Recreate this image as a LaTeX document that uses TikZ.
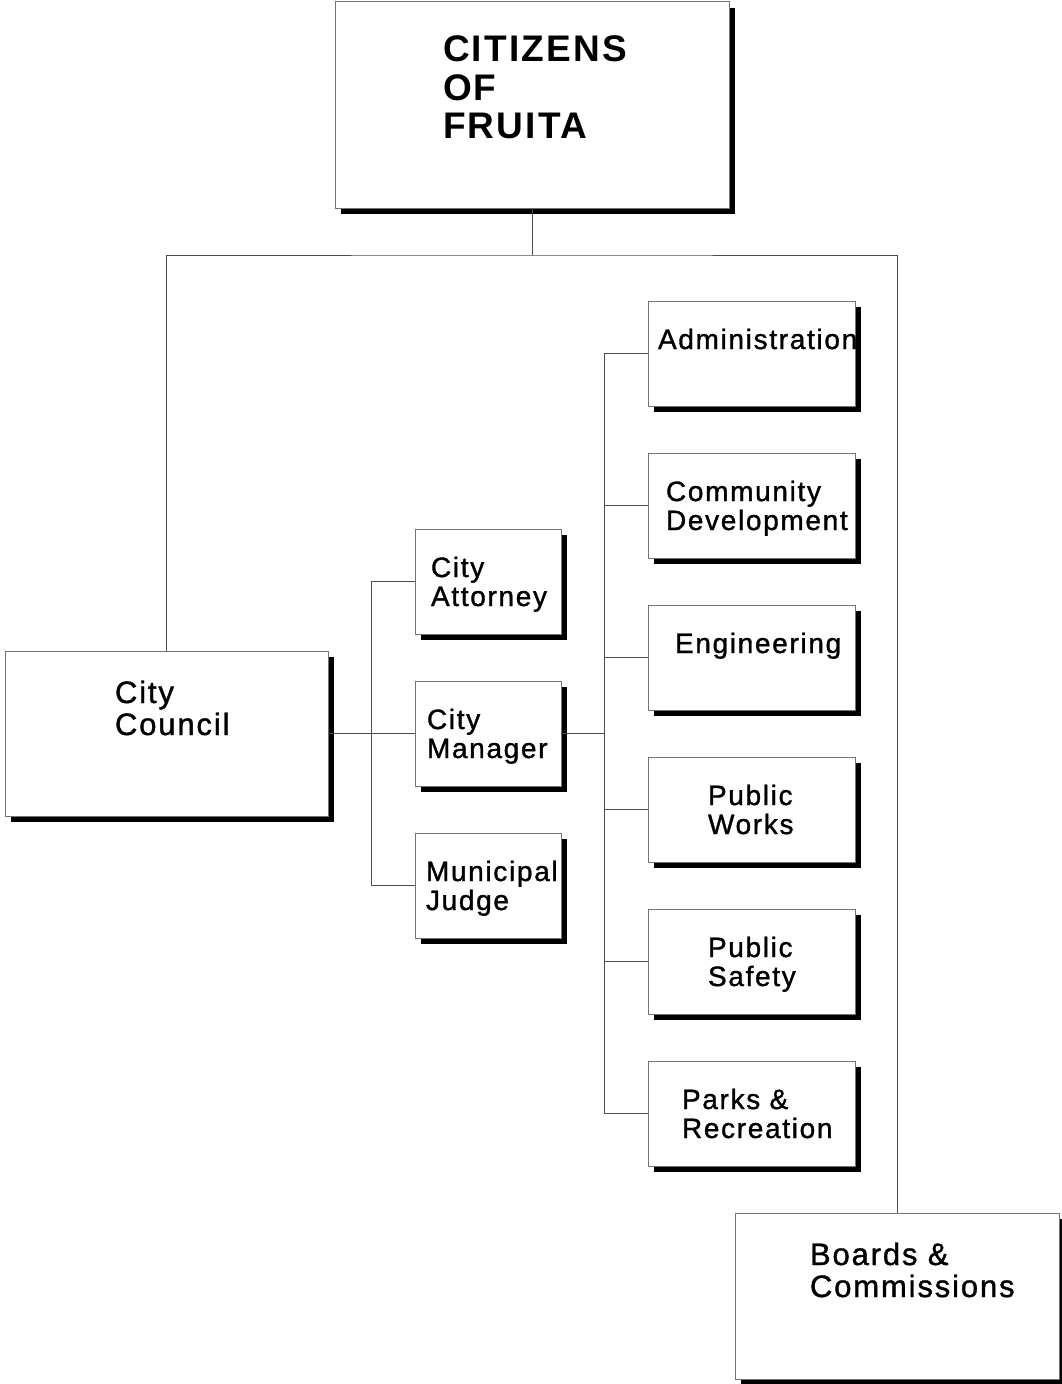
\documentclass[tikz,border=0pt]{standalone}
\usepackage{fontspec}
\newfontfamily\orgfont[LetterSpace=6.0, FakeBold=1.2]{Liberation Sans}
\newfontfamily\orgbold[LetterSpace=6.0]{Liberation Sans Bold}
\usetikzlibrary{shadows}
\hyphenpenalty=10000
\exhyphenpenalty=10000

\begin{document}
\begin{tikzpicture}[x=0.75pt, y=-0.75pt,
    box/.style={rectangle, draw=black!55, line width=0.75pt, fill=white,
        inner sep=0pt, outer sep=0pt, align=left,
        drop shadow={shadow xshift=4.2pt, shadow yshift=-4.2pt, fill=black, opacity=1}},
    bigbox/.style={box, text height=39pt, font=\orgfont\fontsize{23.25pt}{24pt}\selectfont},
    unit/.style={box, minimum width=155.25pt, text height=36pt, text depth=42.75pt,
        font=\orgfont\fontsize{21pt}{21.75pt}\selectfont},
    office/.style={unit, minimum width=109.5pt},
    link/.style={draw=black!70, line width=0.75pt}]
        \useasboundingbox (0,0) rectangle (1062,1384);

        % Buerger ganz oben
        \node[box, minimum width=295.5pt, text width=133.5pt, text height=45pt, text depth=109.5pt,
            font=\orgbold\fontsize{27.75pt}{28.875pt}\selectfont] (citizens) at (532,105) {CITIZENS\\OF\\FRUITA};

        % Stadtrat und Beiraete
        \node[bigbox, minimum width=242.25pt, text width=77.25pt, text depth=84.75pt] (council) at (166.5,733.5) {City\\Council};
        \node[bigbox, minimum width=243pt, text width=130.5pt, text depth=85.5pt] (boards) at (897,1296) {Boards \&\\Commissions};

        % Aemter beim Stadtrat
        \node[office, text width=85.5pt] (attorney) at (488,581.5) {City\\Attorney};
        \node[office, text width=91.5pt] (manager) at (488,733.5) {City\\Manager};
        \node[office, text width=93pt] (judge) at (488,885.5) {Municipal\\Judge};

        % Abteilungen unter dem City Manager
        \node[unit, text width=140.25pt] (admin) at (751.5,353.5) {Administration};
        \node[unit, text width=128.25pt] (commdev) at (751.5,505.5) {Community\\Development};
        \node[unit, text width=114.75pt] (eng) at (751.5,657.5) {Engineering};
        \node[unit, text width=65.25pt] (pworks) at (751.5,809.5) {Public\\Works};
        \node[unit, text width=65.25pt] (psafety) at (751.5,961.5) {Public\\Safety};
        \node[unit, text width=104.25pt] (parks) at (751.5,1113.5) {Parks \&\\Recreation};

        % Verzweigungspunkte
        \coordinate (bus) at (532,255);
        \coordinate (lspine) at (371.5,733.5);
        \coordinate (rspine) at (604.5,733.5);

        % Linien
        \draw[link] (citizens.south) -- (bus);
        \draw[link] (council.north) |- (bus) -| (boards.north);
        \draw[link] (council.east) -- (manager.west);
        \foreach \o in {attorney, judge}
            \draw[link] (\o.west) -| (lspine);
        \draw[link] (manager.east) -- (rspine);
        \foreach \u in {admin, commdev, eng, pworks, psafety, parks}
            \draw[link] (\u.west) -| (rspine);

    \end{tikzpicture}
\end{document}
